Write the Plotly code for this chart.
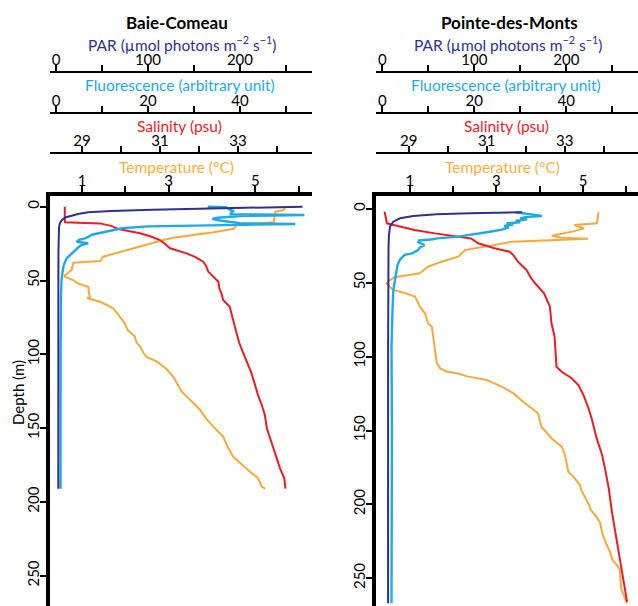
import plotly.graph_objects as go

# ---------------- Baie-Comeau ----------------
bc_par_depth = [0, 0.5, 1.1, 2, 2.9, 3.8, 5, 6, 7.3, 9, 11, 14, 20, 30, 50, 100, 150, 191]
bc_par = [268, 220, 169, 105, 60, 35, 24, 17, 10, 6.5, 4.3, 3.3, 2.9, 2.7, 2.6, 2.5, 2.5, 2.5]

bc_fl_depth = [0, 0.3, 1.5, 3, 4.5, 5.0, 5.6, 6.2, 7.5, 8.3, 9.5, 11.2, 11.7, 12.3, 13.3, 14.6, 16, 17,
               19, 20.5, 21.5, 22.5, 23.7, 24.8, 26, 28, 30, 31.6, 33, 35, 38, 40.6, 45, 50, 60, 80,
               100, 150, 191]
bc_fl = [33, 37, 37.5, 38.5, 38, 38, 54, 41, 35, 34, 36, 40, 52, 38, 20, 14.3, 12, 10.7,
         7.8, 7, 6.3, 5, 4.5, 7, 5.5, 4.7, 4, 3.4, 3.0, 2.3, 1.9, 1.6, 1.4, 1.2, 1.1, 1.0,
         1.0, 1.0, 1.0]

bc_sal_depth = [0, 10.5, 11.3, 13, 15.1, 18, 20, 22.6, 25, 28.2, 31.6, 34, 37.3, 40, 44, 47.5, 50.8,
                55, 59, 63.2, 67.8, 75, 85.8, 92, 99.3, 106, 112.9, 120, 128, 135, 141, 150, 157,
                163.7, 170, 177.2, 184, 188, 191]
bc_sal = [28.56, 28.56, 29.46, 29.75, 29.93, 30.49, 30.75, 31.0, 31.12, 31.26, 31.68, 31.9, 32.11,
          32.18, 32.24, 32.37, 32.5, 32.52, 32.58, 32.62, 32.79, 32.86, 32.97, 33.03, 33.14, 33.24,
          33.35, 33.43, 33.52, 33.62, 33.69, 33.74, 33.83, 33.91, 33.99, 34.08, 34.19, 34.2, 34.22]

bc_temp_depth = [0, 2.3, 3.4, 10.6, 12.4, 15, 17.5, 19.2, 21, 22.6, 24.5, 26.6, 28.5, 30.5, 33.9, 36.8,
                 37.9, 42.9, 46.3, 47.5, 49.7, 52, 54.4, 57, 61.2, 62, 64.4, 68.8, 72, 79, 83.5, 88,
                 91.5, 95, 99.3, 102, 105, 110, 115.2, 120, 125.3, 131, 137.7, 143, 149, 155.8, 162,
                 169.4, 175, 179.5, 184, 189.7, 191]
bc_temp = [5.70, 5.65, 5.46, 5.43, 4.57, 4.5, 4.0, 3.57, 3.1, 2.88, 2.65, 2.42, 2.2, 1.95, 1.49, 1.42,
           0.8, 0.76, 0.61, 0.6, 0.8, 0.91, 1.15, 1.15, 1.18, 1.12, 1.42, 1.72, 1.8, 1.99, 2.05, 2.22,
           2.25, 2.35, 2.42, 2.5, 2.73, 2.95, 3.11, 3.2, 3.3, 3.5, 3.73, 3.85, 4.03, 4.26, 4.35,
           4.49, 4.7, 4.88, 5.07, 5.15, 5.23]

# ---------------- Pointe-des-Monts ----------------
pdm_par_depth = [2.2, 2.5, 2.9, 3.6, 4.7, 6.3, 8.6, 12, 17.6, 25, 50, 100, 200, 267]
pdm_par = [152, 120, 95, 59, 33.7, 19.2, 12, 8.4, 7.3, 6.8, 6.5, 6.3, 6.3, 6.3]

pdm_fl_depth = [2.2, 3, 4, 4.7, 5.5, 6.3, 7, 8, 9, 9.7, 10.5, 11.5, 12.5, 14, 15.4, 16.5, 17.6, 18.7,
                19.9, 20.5, 21.3, 22.5, 24.4, 26, 27.8, 30, 31.1, 34.5, 38, 42.4, 49, 55, 70, 93,
                150, 200, 267]
pdm_fl = [29, 31, 33, 34.7, 31, 30, 31.5, 29, 30, 27, 28.5, 26.5, 27.5, 26, 23.4, 21, 19, 16.5,
          12, 11, 8, 7.8, 9.2, 8.2, 7.8, 6.5, 4.8, 3.8, 3.3, 3.1, 2.8, 2.4, 2.2, 2.0,
          2.1, 2.0, 2.0]

pdm_sal_depth = [1.8, 9.7, 11, 14.2, 16.5, 18.3, 19.9, 23.2, 26.6, 28.9, 31.1, 35.7, 41.3, 46.9, 50.3,
                 57.1, 66.1, 77.4, 86.5, 90.9, 106.8, 110.2, 114.6, 119.2, 125.9, 134.9, 141.7,
                 155.3, 166.6, 178, 189.1, 204.9, 223, 236.5, 250, 266]
pdm_sal = [28.38, 28.44, 28.64, 29.15, 29.67, 30.23, 30.6, 30.78, 31.2, 31.59, 31.68, 31.8, 32.02,
           32.14, 32.24, 32.47, 32.62, 32.66, 32.74, 32.75, 32.79, 32.92, 33.18, 33.35, 33.48,
           33.61, 33.69, 33.82, 33.96, 34.05, 34.13, 34.21, 34.32, 34.41, 34.5, 34.6]

pdm_temp_depth = [2.2, 9.7, 10.8, 12, 13.1, 15, 16.5, 18.1, 19.4, 20.2, 22.1, 24.4, 27.8, 30, 32.3,
                  36, 39.1, 43.5, 46.2, 48, 50.3, 53, 54.8, 57, 59.3, 63.9, 66.1, 70.6, 77.4, 79.7,
                  86.5, 90, 97.7, 104, 107.9, 110, 111.2, 113.5, 115.8, 117, 121.4, 125, 129.3,
                  134.9, 138.3, 143, 147.4, 151, 155.2, 160.9, 166, 172, 177.9, 182, 186.9, 190.2,
                  195, 200.4, 203.8, 208, 212, 220, 227.5, 232, 237.6, 241, 244.4, 250, 256.8,
                  262, 267]
pdm_temp = [5.36, 5.32, 4.8, 4.9, 5.02, 4.8, 4.58, 4.28, 4.5, 5.12, 3.35, 2.96, 2.27, 2.2, 2.12,
            1.7, 1.42, 1.23, 0.65, 0.55, 0.46, 0.55, 0.61, 0.9, 1.12, 1.2, 1.23, 1.35, 1.42, 1.51,
            1.54, 1.55, 1.58, 1.62, 1.7, 1.85, 2.09, 2.35, 2.78, 2.88, 3.2, 3.4, 3.57,
            3.8, 3.96, 4.0, 4.04, 4.15, 4.27, 4.51, 4.58, 4.62, 4.66, 4.8, 4.93, 4.96,
            5.05, 5.14, 5.18, 5.3, 5.39, 5.45, 5.55, 5.62, 5.68, 5.78, 5.85, 5.87, 5.88,
            5.95, 6.01]

# ---------------- axis ticks ----------------
par_ticks = [0, 100, 200]
par_minor = [50, 150, 250]
fl_ticks = [0, 20, 40]
fl_minor = [10, 30, 50]
sal_ticks = [29, 31, 33]
sal_minor = [30, 32, 34]
temp_ticks = [1, 3, 5]
temp_minor = [2, 4, 6]
depth_ticks = [0, 50, 100, 150, 200, 250]

PAR_C = "#2e3192"
FL_C = "#1eaae7"
SAL_C = "#ed1c24"
TEMP_C = "#f9a83c"
TEMP_TXT = "#fbb040"
FONT = "Lato"

W, H = 638, 606


def px(v):
    return v / W


def py(v):
    return 1 - v / H


fig = go.Figure()

panels = [
    dict(par=(bc_par, bc_par_depth), fl=(bc_fl, bc_fl_depth), sal=(bc_sal, bc_sal_depth),
         temp=(bc_temp, bc_temp_depth), xs=("x", "x2", "x3", "x4"), y="y"),
    dict(par=(pdm_par, pdm_par_depth), fl=(pdm_fl, pdm_fl_depth), sal=(pdm_sal, pdm_sal_depth),
         temp=(pdm_temp, pdm_temp_depth), xs=("x5", "x6", "x7", "x8"), y="y2"),
]

for p in panels:
    xt, xs_, xf, xp = p["xs"]
    fig.add_trace(go.Scatter(x=p["par"][0], y=p["par"][1], xaxis=xp, yaxis=p["y"], mode="lines",
                             line=dict(color=PAR_C, width=2)))
    fig.add_trace(go.Scatter(x=p["fl"][0], y=p["fl"][1], xaxis=xf, yaxis=p["y"], mode="lines",
                             line=dict(color=FL_C, width=2.4)))
    fig.add_trace(go.Scatter(x=p["temp"][0], y=p["temp"][1], xaxis=xt, yaxis=p["y"], mode="lines",
                             line=dict(color=TEMP_C, width=2)))
    fig.add_trace(go.Scatter(x=p["sal"][0], y=p["sal"][1], xaxis=xs_, yaxis=p["y"], mode="lines",
                             line=dict(color=SAL_C, width=2)))

tickfont = dict(family=FONT, size=15, color="black")


def top_axis(domain, rng, tv, mv, lw, **kw):
    d = dict(domain=domain, range=rng, side="top", tickvals=tv, showline=True,
             linecolor="black", linewidth=lw, ticks="outside", ticklen=6, tickwidth=1.5,
             tickcolor="black", showgrid=False, zeroline=False, tickfont=tickfont,
             ticklabelstandoff=-6,
             minor=dict(tickvals=mv, ticks="outside", ticklen=6, tickwidth=1.5,
                        tickcolor="black", showgrid=False))
    d.update(kw)
    return d


def depth_axis(anchor, rng):
    return dict(domain=[0, py(196)], range=rng, anchor=anchor, tickvals=depth_ticks,
                showline=True, linecolor="black", linewidth=3.5,
                ticks="outside", ticklen=6, tickwidth=1.5, tickcolor="black", tickangle=-90,
                ticklabelstandoff=-5,
                showgrid=False, zeroline=False, tickfont=tickfont)


dL = [px(50), px(312)]
dR = [px(376), 1.0]

layout = dict(
    width=W, height=H, margin=dict(l=0, r=0, t=0, b=0), showlegend=False,
    plot_bgcolor="white", paper_bgcolor="white",
    xaxis=top_axis(dL, [0.26, 6.31], temp_ticks, temp_minor, 3.5, anchor="y"),
    xaxis2=top_axis(dL, [28.18, 34.9], sal_ticks, sal_minor, 2, anchor="free",
                    overlaying="x", position=py(153)),
    xaxis3=top_axis(dL, [-1.3, 55.65], fl_ticks, fl_minor, 2, anchor="free",
                    overlaying="x", position=py(113)),
    xaxis4=top_axis(dL, [-6.5, 278.3], par_ticks, par_minor, 2, anchor="free",
                    overlaying="x", position=py(72)),
    yaxis=depth_axis("x", [270.5, -7.25]),
    xaxis5=top_axis(dR, [0.22, 6.27], temp_ticks, temp_minor, 3.5, anchor="y2"),
    xaxis6=top_axis(dR, [28.16, 34.88], sal_ticks, sal_minor, 2, anchor="free",
                    overlaying="x5", position=py(153)),
    xaxis7=top_axis(dR, [-1.37, 55.6], fl_ticks, fl_minor, 2, anchor="free",
                    overlaying="x5", position=py(113)),
    xaxis8=top_axis(dR, [-6.8, 277.9], par_ticks, par_minor, 2, anchor="free",
                    overlaying="x5", position=py(72)),
    yaxis2=depth_axis("x5", [268.8, -8.8]),
)
fig.update_layout(**layout)

ann = []


def add_text(text, x, y, color, size=15.5, bold=False, angle=0):
    ann.append(dict(text=f"<b>{text}</b>" if bold else text, x=px(x), y=py(y), xref="paper",
                    yref="paper", showarrow=False, xanchor="center", yanchor="middle",
                    textangle=angle, font=dict(family=FONT, size=size, color=color)))


for cx, title in [(177, "Baie-Comeau"), (510, "Pointe-des-Monts")]:
    add_text(title, cx, 23, "black", size=17, bold=True)

for off in (0, 326):
    add_text("PAR (µmol photons m<sup>−2</sup> s<sup>−1</sup>)", 182 + off, 43, PAR_C)
    add_text("Fluorescence (arbitrary unit)", 180 + off, 85, FL_C)
    add_text("Salinity (psu)", 180 + off, 126, SAL_C)
    add_text("Temperature (°C)", 176 + off, 167, TEMP_TXT)

add_text("Depth (m)", 18, 393, "black", size=15, angle=-90)

fig.update_layout(annotations=ann)
fig.write_html("out.html")
